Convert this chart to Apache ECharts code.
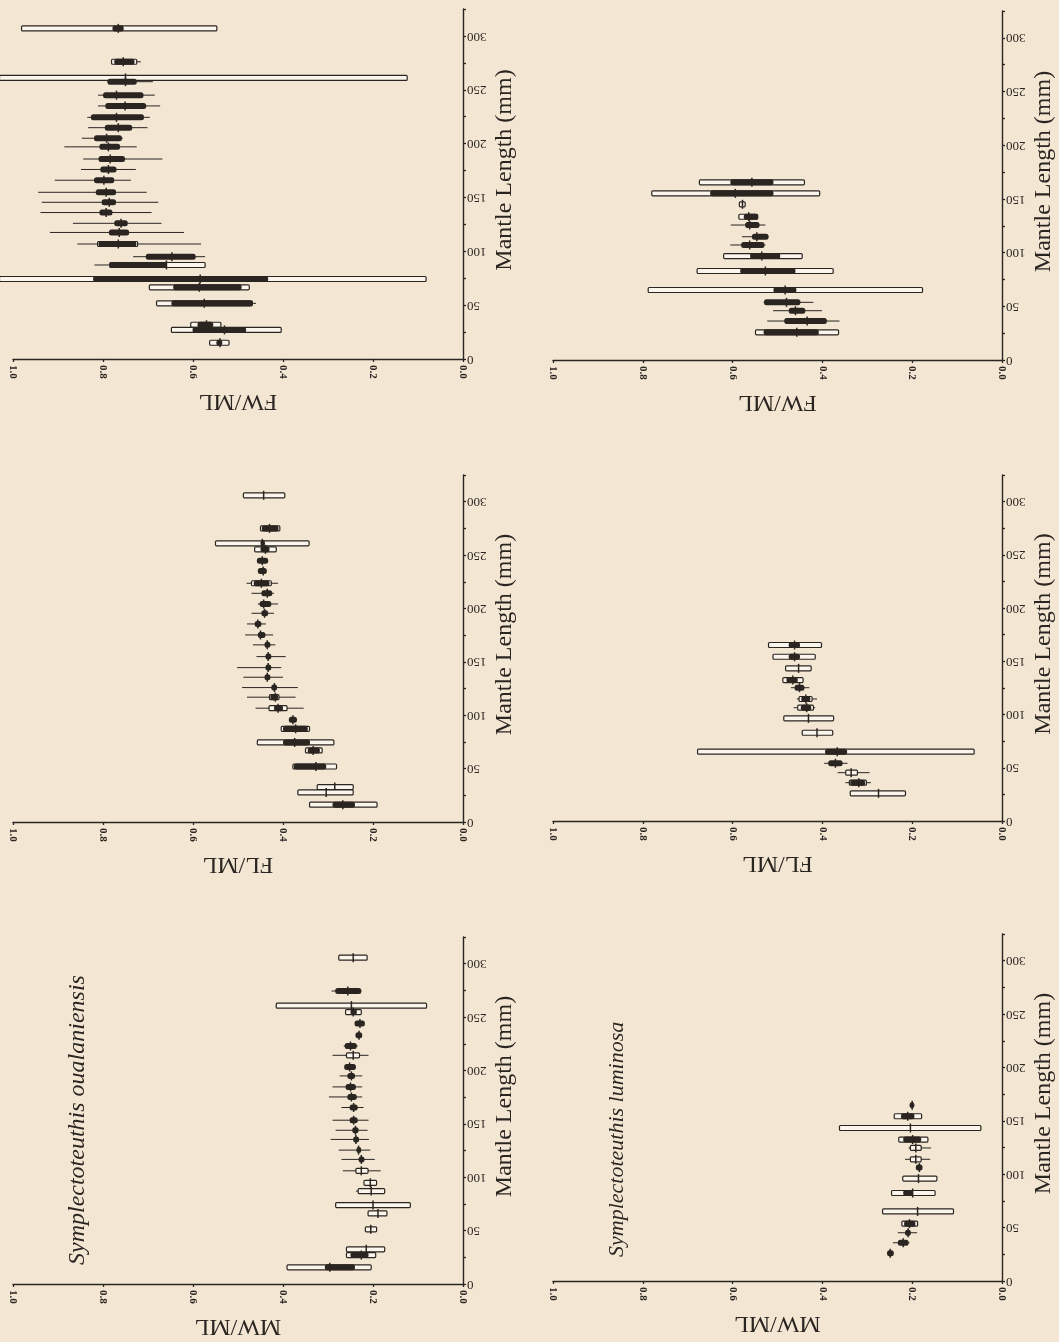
<!DOCTYPE html>
<html>
<head>
<meta charset="utf-8">
<script src="https://cdn.jsdelivr.net/npm/echarts@6/dist/echarts.min.js"></script>
<style>
html,body{margin:0;padding:0;background:#f3e7d4;}
#chart{width:1059px;height:1342px;}
</style>
</head>
<body>
<div id="chart"></div>
<script>
// Row format: [mantleLength, rangeMin, rangeMax, sdMin, sdMax, seMin, seMax, mean]
const fwOualaniensis = [
  [307, null, null, 0.547, 0.981, 0.754, 0.779, 0.766],
  [276, 0.716, 0.781, 0.725, 0.781, 0.730, 0.775, 0.755],
  [261, null, null, 0.124, 1.030, null, null, 0.750],
  [257.5, 0.689, 0.790, null, null, 0.725, 0.790, 0.750],
  [245, 0.685, 0.811, null, null, 0.710, 0.800, 0.770],
  [235, 0.673, 0.811, null, null, 0.704, 0.795, 0.751],
  [224.4, 0.696, 0.835, null, null, 0.709, 0.827, 0.770],
  [214.8, 0.701, 0.833, null, null, 0.735, 0.796, 0.766],
  [205, 0.756, 0.847, null, null, 0.758, 0.820, 0.792],
  [197, 0.725, 0.886, null, null, 0.762, 0.808, 0.788],
  [185.7, 0.668, 0.844, null, null, 0.751, 0.810, 0.784],
  [176, 0.727, 0.849, null, null, 0.770, 0.806, 0.788],
  [166, 0.738, 0.907, null, null, 0.775, 0.820, 0.798],
  [154.8, 0.703, 0.944, null, null, 0.771, 0.816, 0.793],
  [145.5, 0.677, 0.936, null, null, 0.771, 0.803, 0.786],
  [136, 0.692, 0.939, null, null, 0.779, 0.808, 0.793],
  [126, 0.670, 0.867, null, null, 0.745, 0.775, 0.760],
  [117.5, 0.620, 0.918, null, null, 0.742, 0.787, 0.764],
  [106.8, 0.582, 0.857, 0.723, 0.812, 0.726, 0.810, 0.766],
  [95, 0.573, 0.733, null, null, 0.594, 0.705, 0.647],
  [87.3, 0.573, 0.819, 0.573, 0.785, 0.659, 0.785, 0.659],
  [74.3, null, null, 0.082, 1.030, 0.433, 0.822, 0.584],
  [66.6, null, null, 0.475, 0.697, 0.492, 0.644, 0.586],
  [51.7, 0.460, 0.681, 0.468, 0.681, 0.468, 0.648, 0.575],
  [31.8, null, null, 0.538, 0.605, 0.555, 0.590, 0.570],
  [27, null, null, 0.404, 0.648, 0.482, 0.601, 0.530],
  [15.1, null, null, 0.520, 0.563, 0.535, 0.548, 0.540]
];
const flOualaniensis = [
  [306, null, null, 0.396, 0.488, null, null, 0.443],
  [275, null, null, 0.407, 0.450, 0.410, 0.447, 0.430],
  [261, null, null, 0.342, 0.550, 0.440, 0.450, 0.446],
  [255.4, null, null, 0.415, 0.463, 0.430, 0.450, 0.439],
  [244.7, null, null, null, null, 0.433, 0.458, 0.446],
  [235, null, null, null, null, 0.436, 0.456, 0.444],
  [223.6, 0.411, 0.481, 0.426, 0.470, 0.430, 0.465, 0.448],
  [214.2, 0.420, 0.470, null, null, 0.424, 0.448, 0.435],
  [204.2, 0.411, 0.456, null, null, 0.426, 0.452, 0.443],
  [195.5, 0.420, 0.470, null, null, 0.433, 0.448, 0.441],
  [185.5, 0.438, 0.480, null, null, 0.448, 0.463, 0.456],
  [175.2, 0.422, 0.484, null, null, 0.439, 0.456, 0.450],
  [165.9, 0.417, 0.467, null, null, 0.428, 0.441, 0.435],
  [154.9, 0.394, 0.459, null, null, 0.426, 0.439, 0.433],
  [144.6, 0.404, 0.502, null, null, 0.426, 0.439, 0.433],
  [135.6, 0.400, 0.488, null, null, 0.428, 0.441, 0.435],
  [125.9, 0.367, 0.491, null, null, 0.413, 0.426, 0.419],
  [116.9, 0.372, 0.480, 0.409, 0.430, 0.411, 0.428, 0.417],
  [106.6, 0.354, 0.461, 0.391, 0.431, 0.400, 0.420, 0.411],
  [95.7, null, null, null, null, 0.369, 0.387, 0.378],
  [87.3, null, null, 0.341, 0.404, 0.345, 0.400, 0.372],
  [74.5, null, null, 0.287, 0.457, 0.340, 0.400, 0.374],
  [67, null, null, 0.313, 0.350, 0.318, 0.345, 0.333],
  [52, null, null, 0.281, 0.378, 0.304, 0.376, 0.327],
  [32.7, null, null, 0.244, 0.324, null, null, 0.285],
  [27.7, null, null, 0.244, 0.367, null, null, 0.304],
  [16.2, null, null, 0.191, 0.341, 0.240, 0.290, 0.267]
];
const mwOualaniensis = [
  [305.6, null, null, 0.213, 0.276, null, null, 0.244],
  [274.4, 0.226, 0.292, null, null, 0.226, 0.284, 0.256],
  [260.7, null, null, 0.081, 0.415, null, null, 0.248],
  [254.7, null, null, 0.226, 0.261, 0.236, 0.250, 0.244],
  [243.9, null, null, null, null, 0.218, 0.241, 0.229],
  [232.9, null, null, null, null, 0.224, 0.239, 0.231],
  [222.9, 0.234, 0.265, null, null, 0.236, 0.263, 0.250],
  [214.2, 0.210, 0.290, 0.230, 0.259, null, null, 0.244],
  [203.3, null, null, null, null, 0.238, 0.264, 0.252],
  [194.9, 0.224, 0.274, null, null, 0.240, 0.257, 0.248],
  [184.6, 0.224, 0.290, null, null, 0.238, 0.261, 0.250],
  [175.2, 0.224, 0.298, null, null, 0.236, 0.257, 0.248],
  [165.3, 0.221, 0.270, null, null, 0.234, 0.252, 0.243],
  [153.4, 0.210, 0.290, null, null, 0.234, 0.252, 0.243],
  [144, 0.212, 0.283, null, null, 0.232, 0.246, 0.239],
  [135.4, 0.209, 0.294, null, null, 0.231, 0.244, 0.238],
  [125.4, 0.206, 0.276, null, null, 0.226, 0.237, 0.232],
  [116.7, 0.196, 0.270, null, null, 0.219, 0.232, 0.226],
  [106, 0.183, 0.267, 0.211, 0.238, null, null, 0.226],
  [94.8, null, null, 0.192, 0.220, null, null, 0.206],
  [87, 0.174, 0.238, 0.174, 0.233, null, null, 0.204],
  [73.9, null, null, 0.117, 0.283, null, null, 0.200],
  [66.1, null, null, 0.169, 0.211, null, null, 0.189],
  [51.2, null, null, 0.192, 0.217, null, null, 0.205],
  [32.5, null, null, 0.174, 0.259, null, null, 0.215],
  [27.1, null, null, 0.194, 0.259, 0.210, 0.250, 0.226],
  [15.6, null, null, 0.204, 0.391, 0.240, 0.307, 0.296]
];
const fwLuminosa = [
  [165.5, null, null, 0.440, 0.674, 0.509, 0.605, 0.557],
  [155.2, null, null, 0.406, 0.780, 0.509, 0.650, 0.594],
  [145, null, null, 0.572, 0.585, null, null, 0.578],
  [133.4, null, null, 0.544, 0.586, 0.544, 0.575, 0.564],
  [125.7, 0.527, 0.604, null, null, 0.540, 0.572, 0.562],
  [114.8, 0.520, 0.579, null, null, 0.520, 0.557, 0.546],
  [107.1, 0.527, 0.605, null, null, 0.529, 0.581, 0.562],
  [96.8, null, null, 0.445, 0.620, 0.494, 0.561, 0.535],
  [82.9, null, null, 0.376, 0.679, 0.460, 0.583, 0.527],
  [65.2, null, null, 0.177, 0.788, 0.458, 0.509, 0.483],
  [53.7, 0.420, 0.531, null, null, 0.449, 0.530, 0.480],
  [45.9, 0.401, 0.510, null, null, 0.438, 0.475, 0.460],
  [36.3, 0.362, 0.523, null, null, 0.390, 0.485, 0.434],
  [25.8, null, null, 0.364, 0.549, 0.408, 0.531, 0.457]
];
const flLuminosa = [
  [165.3, null, null, 0.402, 0.520, 0.450, 0.475, 0.462],
  [154.3, null, null, 0.416, 0.510, 0.450, 0.475, 0.462],
  [143.4, null, null, 0.425, 0.482, null, null, 0.453],
  [132.4, null, null, 0.443, 0.488, 0.455, 0.480, 0.466],
  [125.2, 0.429, 0.470, null, null, 0.440, 0.462, 0.451],
  [114.6, 0.412, 0.457, 0.423, 0.452, 0.427, 0.447, 0.437],
  [106.4, 0.416, 0.464, 0.420, 0.455, 0.425, 0.448, 0.435],
  [96.4, null, null, 0.375, 0.486, null, null, 0.431],
  [82.9, null, null, 0.377, 0.445, null, null, 0.412],
  [65.1, null, null, 0.062, 0.678, 0.345, 0.394, 0.367],
  [54.2, 0.344, 0.396, null, null, 0.355, 0.387, 0.371],
  [45.4, 0.295, 0.366, 0.322, 0.348, null, null, 0.336],
  [36, 0.292, 0.349, 0.302, 0.340, 0.305, 0.338, 0.319],
  [26, null, null, 0.215, 0.338, null, null, 0.275]
];
const mwLuminosa = [
  [164.6, null, null, null, null, 0.195, 0.206, 0.200],
  [154.3, null, null, 0.179, 0.240, 0.195, 0.225, 0.210],
  [143.3, null, null, 0.047, 0.362, null, null, 0.204],
  [132.5, null, null, 0.165, 0.230, 0.180, 0.220, 0.199],
  [124.6, 0.158, 0.208, 0.180, 0.204, null, null, 0.192],
  [114, 0.160, 0.216, 0.180, 0.204, null, null, 0.192],
  [106.2, null, null, null, null, 0.177, 0.192, 0.184],
  [95.9, null, null, 0.145, 0.221, null, null, 0.186],
  [82.4, null, null, 0.149, 0.246, 0.200, 0.220, 0.199],
  [65.2, null, null, 0.108, 0.266, null, null, 0.188],
  [53.7, null, null, 0.188, 0.223, 0.193, 0.218, 0.206],
  [45.2, 0.189, 0.232, null, null, 0.203, 0.216, 0.209],
  [35.8, 0.206, 0.243, null, null, 0.208, 0.232, 0.220],
  [26.1, null, null, null, null, 0.241, 0.256, 0.249]
];

const ratioNames = ['FW/ML', 'FL/ML', 'MW/ML', 'FW/ML', 'FL/ML', 'MW/ML'];
const mlAxisName = 'Mantle Length (mm)';
const speciesNames = ['Symplectoteuthis oualaniensis', 'Symplectoteuthis luminosa'];

const panels = [fwOualaniensis, flOualaniensis, mwOualaniensis, fwLuminosa, flLuminosa, mwLuminosa];

const INK = '#2b2521';
const BOX = '#fbf6ec';
const SERIF = "'Liberation Serif','DejaVu Serif',serif";

const gridBoxes = [
  {left: 13, top: 9, width: 450, height: 350},
  {left: 13, top: 475, width: 450, height: 347},
  {left: 13, top: 937, width: 450, height: 347},
  {left: 553, top: 11, width: 449, height: 349},
  {left: 553, top: 475, width: 449, height: 346},
  {left: 553, top: 934, width: 449, height: 347}
];

function makeRender(rows) {
  return function (params, api) {
    const r = rows[params.dataIndex];
    const ml = r[0];
    const y = api.coord([0, ml])[1];
    const X = v => api.coord([v, ml])[0];
    const kids = [];
    if (r[1] != null) {
      kids.push({type: 'line', shape: {x1: X(r[1]), y1: y, x2: X(r[2]), y2: y},
        style: {stroke: INK, lineWidth: 1}});
    }
    if (r[3] != null) {
      const a = X(r[3]), b = X(r[4]);
      kids.push({type: 'rect', shape: {x: Math.min(a, b), y: y - 2.5, width: Math.abs(b - a), height: 5, r: 1},
        style: {fill: BOX, stroke: INK, lineWidth: 1.2}});
    }
    if (r[5] != null) {
      const a = X(r[5]), b = X(r[6]);
      const w = Math.max(Math.abs(b - a), 4);
      kids.push({type: 'rect', shape: {x: Math.min(a, b), y: y - 3, width: w, height: 6, r: 2.5},
        style: {fill: INK}});
    }
    if (r[7] != null) {
      const m = X(r[7]);
      kids.push({type: 'line', shape: {x1: m, y1: y - 4.5, x2: m, y2: y + 4.5},
        style: {stroke: INK, lineWidth: 1.5}});
    }
    return {type: 'group', children: kids};
  };
}

const grid = gridBoxes.map(g => Object.assign({containLabel: false, outerBoundsMode: 'none'}, g));

const xAxis = gridBoxes.map((g, i) => ({
  gridIndex: i, type: 'value', min: 0, max: 1, interval: 0.2, inverse: true,
  axisLine: {show: true, onZero: false, lineStyle: {color: INK, width: 1.4}},
  axisTick: {show: true, length: 3, lineStyle: {color: INK, width: 1.3}},
  axisLabel: {rotate: -90, margin: 6, fontSize: 11, fontWeight: 'bold', fontFamily: SERIF, color: INK,
    formatter: v => v.toFixed(1)},
  splitLine: {show: false},
  name: ratioNames[i], nameLocation: 'middle', nameRotate: 180, nameGap: 30,
  nameTextStyle: {fontSize: 24, fontFamily: SERIF, color: INK}
}));

const yAxis = gridBoxes.map((g, i) => ({
  gridIndex: i, type: 'value', position: 'right', min: 0, max: 325, interval: 25,
  axisLine: {show: true, onZero: false, lineStyle: {color: INK, width: 1.4}},
  axisTick: {show: true, length: 3, lineStyle: {color: INK, width: 1.3}},
  axisLabel: {rotate: 180, margin: 4, fontSize: 13, fontFamily: SERIF, color: INK,
    formatter: v => (v % 50 === 0 && v <= 300) ? String(v) : ''},
  splitLine: {show: false},
  name: mlAxisName, nameLocation: 'middle', nameRotate: 90, nameGap: 30,
  nameTextStyle: {fontSize: 24, fontFamily: SERIF, color: INK, padding: [0, 0, 0, 28]}
}));

const series = panels.map((rows, i) => ({
  type: 'custom', xAxisIndex: i, yAxisIndex: i, clip: false,
  data: rows.map(r => [r[0], r[7]]),
  encode: {x: 1, y: 0},
  renderItem: makeRender(rows),
  silent: true, animation: false
}));

const chart = echarts.init(document.getElementById('chart'), null, {renderer: 'canvas'});
chart.setOption({
  backgroundColor: '#f3e7d4',
  animation: false,
  grid, xAxis, yAxis, series,
  graphic: [
    {type: 'text', x: 78, y: 1265, rotation: Math.PI / 2,
      style: {text: speciesNames[0], fontSize: 24, fontStyle: 'italic', fontFamily: SERIF, fill: INK,
        align: 'left', verticalAlign: 'middle'}},
    {type: 'text', x: 617, y: 1257, rotation: Math.PI / 2,
      style: {text: speciesNames[1], fontSize: 22, fontStyle: 'italic', fontFamily: SERIF, fill: INK,
        align: 'left', verticalAlign: 'middle'}}
  ]
});
</script>
</body>
</html>
